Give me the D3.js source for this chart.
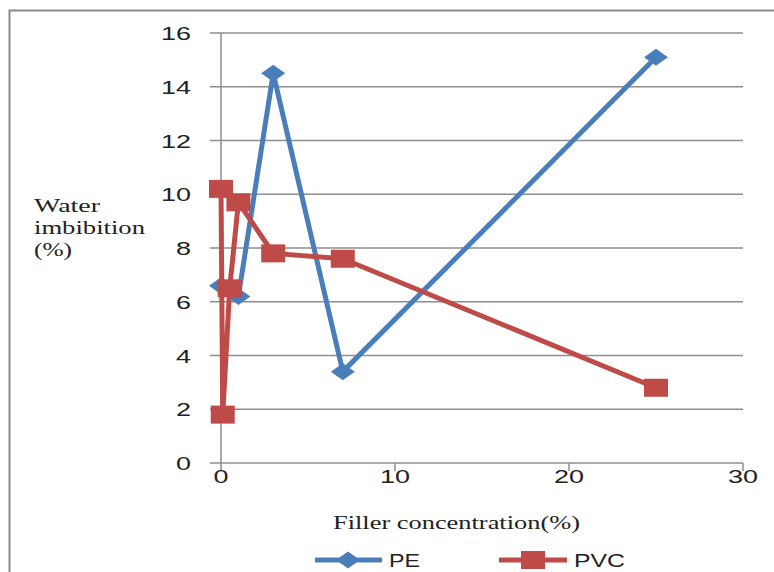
<!DOCTYPE html>
<html>
<head>
<meta charset="utf-8">
<script src="https://cdn.jsdelivr.net/npm/d3@7"></script>
<style>
  body { margin: 0; background: #fff; }
  svg { display: block; }
</style>
</head>
<body>
<div id="chart"></div>
<script>
// Water imbibition (%) against filler concentration (%)
const peX = [0, 1, 3, 7, 25];
const peY = [6.6, 6.2, 14.5, 3.4, 15.1];
const pvcX = [0, 0.1, 0.5, 1, 3, 7, 25];
const pvcY = [10.2, 1.8, 6.5, 9.7, 7.8, 7.6, 2.8];

const xTicks = [0, 10, 20, 30];
const yTicks = [0, 2, 4, 6, 8, 10, 12, 14, 16];

const width = 774,
  height = 572;

const BLUE = "#4a7ebb",
  RED = "#be4b48",
  GRID = "#8e8e8e";

const svg = d3.select("#chart")
  .append("svg")
  .attr("width", width)
  .attr("height", height);

// outer chart border (runs off the right and bottom edges)
svg.append("rect")
  .attr("x", 9.5)
  .attr("y", 10.5)
  .attr("width", 800)
  .attr("height", 600)
  .attr("fill", "none")
  .attr("stroke", "#8a8a8a")
  .attr("stroke-width", 2);

const xScale = d3.scaleLinear().domain([0, 30]).range([221, 743]);
const yScale = d3.scaleLinear().domain([0, 16]).range([463, 33]);

// horizontal gridlines with left tick marks
svg.append("g")
  .attr("class", "grid")
  .selectAll("line")
  .data(yTicks)
  .enter()
  .append("line")
  .attr("x1", xScale(0) - 11)
  .attr("x2", xScale(30))
  .attr("y1", d => yScale(d))
  .attr("y2", d => yScale(d))
  .style("stroke", GRID)
  .style("stroke-width", 1.5);

// vertical axis line
svg.append("line")
  .attr("x1", xScale(0))
  .attr("x2", xScale(0))
  .attr("y1", yScale(16))
  .attr("y2", yScale(0))
  .style("stroke", GRID)
  .style("stroke-width", 1.5);

// x ticks below axis
svg.append("g")
  .selectAll("line")
  .data(xTicks)
  .enter()
  .append("line")
  .attr("x1", d => xScale(d))
  .attr("x2", d => xScale(d))
  .attr("y1", yScale(0))
  .attr("y2", yScale(0) + 8)
  .style("stroke", GRID)
  .style("stroke-width", 1.5);

// y tick labels
svg.append("g")
  .selectAll("text")
  .data(yTicks)
  .enter()
  .append("text")
  .attr("x", 191)
  .attr("y", d => yScale(d) + 7)
  .attr("text-anchor", "end")
  .attr("textLength", d => String(d).length * 15)
  .attr("lengthAdjust", "spacingAndGlyphs")
  .style("font-family", "Liberation Sans, Arial, sans-serif")
  .style("font-size", "19px")
  .style("fill", "#222")
  .text(d => d);

// x tick labels
svg.append("g")
  .selectAll("text")
  .data(xTicks)
  .enter()
  .append("text")
  .attr("x", d => xScale(d))
  .attr("y", yScale(0) + 20)
  .attr("text-anchor", "middle")
  .attr("textLength", d => String(d).length * 15)
  .attr("lengthAdjust", "spacingAndGlyphs")
  .style("font-family", "Liberation Sans, Arial, sans-serif")
  .style("font-size", "19px")
  .style("fill", "#222")
  .text(d => d);

// axis titles
svg.append("text")
  .attr("x", 333)
  .attr("y", 529)
  .attr("textLength", 247)
  .attr("lengthAdjust", "spacingAndGlyphs")
  .style("font-family", "Liberation Serif, serif")
  .style("font-size", "18px")
  .style("fill", "#222")
  .text("Filler concentration(%)");

const yTitle = ["Water", "imbibition", "(%)"];
const yTitleLen = [66, 111, 38];
svg.append("g")
  .selectAll("text")
  .data(yTitle)
  .enter()
  .append("text")
  .attr("x", 34)
  .attr("y", (d, i) => 212 + i * 22)
  .attr("textLength", (d, i) => yTitleLen[i])
  .attr("lengthAdjust", "spacingAndGlyphs")
  .style("font-family", "Liberation Serif, serif")
  .style("font-size", "18px")
  .style("fill", "#222")
  .text(d => d);

// marker shapes
function diamond(cx, cy) {
  return "M" + (cx - 12) + "," + cy + "L" + cx + "," + (cy - 8.5) +
    "L" + (cx + 12) + "," + cy + "L" + cx + "," + (cy + 8.5) + "Z";
}

const line = d3.line()
  .x(d => xScale(d[0]))
  .y(d => yScale(d[1]));

const pe = peX.map((x, i) => [x, peY[i]]);
const pvc = pvcX.map((x, i) => [x, pvcY[i]]);

// PE series
svg.append("path")
  .datum(pe)
  .attr("d", line)
  .attr("fill", "none")
  .attr("stroke", BLUE)
  .attr("stroke-width", 5)
  .attr("stroke-linejoin", "round");
svg.append("g")
  .selectAll("path")
  .data(pe)
  .enter()
  .append("path")
  .attr("d", d => diamond(xScale(d[0]), yScale(d[1])))
  .attr("fill", BLUE);

// PVC series
svg.append("path")
  .datum(pvc)
  .attr("d", line)
  .attr("fill", "none")
  .attr("stroke", RED)
  .attr("stroke-width", 5)
  .attr("stroke-linejoin", "round");
svg.append("g")
  .selectAll("rect")
  .data(pvc)
  .enter()
  .append("rect")
  .attr("x", d => xScale(d[0]) - 12)
  .attr("y", d => yScale(d[1]) - 9)
  .attr("width", 24)
  .attr("height", 18)
  .attr("fill", RED);

// legend
const legend = svg.append("g");
legend.append("line")
  .attr("x1", 315).attr("x2", 382)
  .attr("y1", 560).attr("y2", 560)
  .attr("stroke", BLUE).attr("stroke-width", 5);
legend.append("path")
  .attr("d", diamond(348, 560))
  .attr("fill", BLUE);
legend.append("text")
  .attr("x", 389).attr("y", 567)
  .attr("textLength", 31)
  .attr("lengthAdjust", "spacingAndGlyphs")
  .style("font-family", "Liberation Sans, Arial, sans-serif")
  .style("font-size", "19px")
  .style("fill", "#222")
  .text("PE");

legend.append("line")
  .attr("x1", 499).attr("x2", 567)
  .attr("y1", 560).attr("y2", 560)
  .attr("stroke", RED).attr("stroke-width", 5);
legend.append("rect")
  .attr("x", 521).attr("y", 551)
  .attr("width", 24).attr("height", 18)
  .attr("fill", RED);
legend.append("text")
  .attr("x", 574).attr("y", 567)
  .attr("textLength", 51)
  .attr("lengthAdjust", "spacingAndGlyphs")
  .style("font-family", "Liberation Sans, Arial, sans-serif")
  .style("font-size", "19px")
  .style("fill", "#222")
  .text("PVC");
</script>
</body>
</html>
